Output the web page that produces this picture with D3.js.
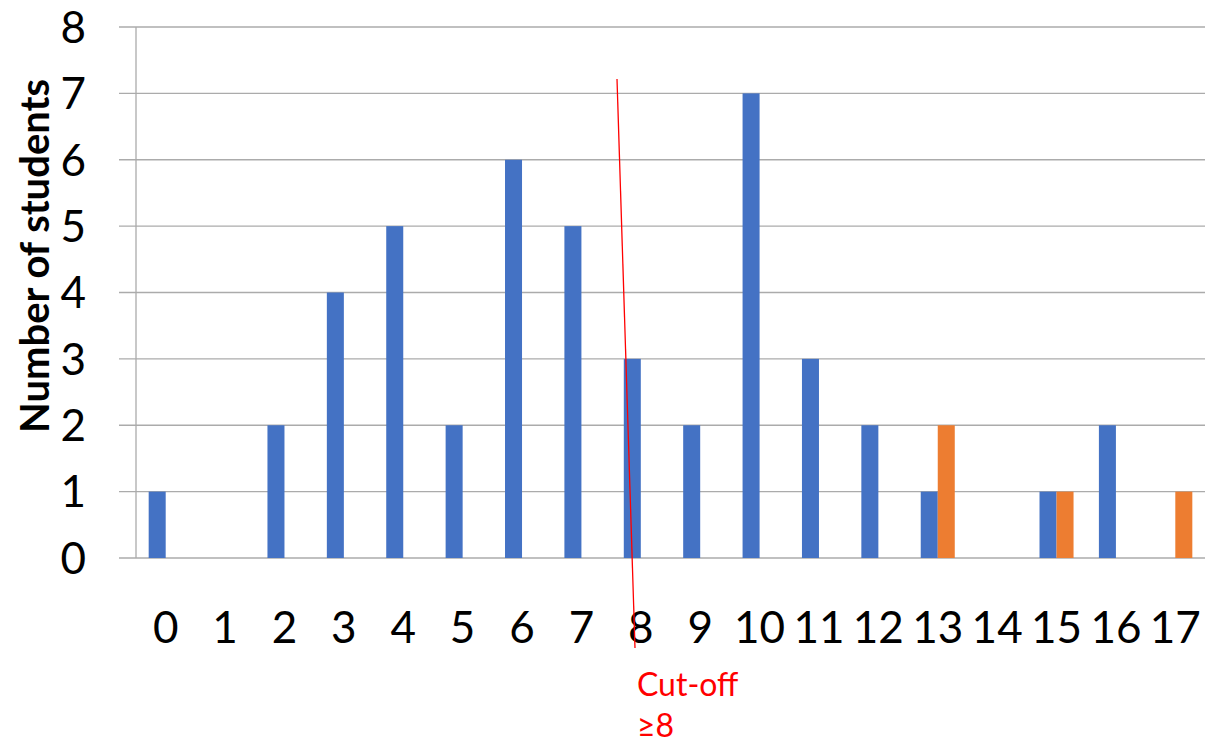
<!DOCTYPE html>
<html>
<head>
<meta charset="utf-8">
<script src="https://cdn.jsdelivr.net/npm/d3@7"></script>
<style>
  html, body { margin: 0; padding: 0; background: #fff; }
  svg { display: block; }
  text { font-family: Lato, "Open Sans", sans-serif; }
</style>
</head>
<body>
<svg id="chart" width="1205" height="744"></svg>
<script>
const categories = ["0","1","2","3","4","5","6","7","8","9","10","11","12","13","14","15","16","17"];
const seriesA = [1,0,2,4,5,2,6,5,3,2,7,3,2,1,0,1,2,0];
const seriesB = [0,0,0,0,0,0,0,0,0,0,0,0,0,2,0,1,0,1];
const seriesNames = ["A","B"];
const yTicks = [0,1,2,3,4,5,6,7,8];
const yTitle = "Number of students";
const cutoffLabel = ["Cut-off", "≥8"];

const colors = {A: "#4472C4", B: "#ED7D31"};
const svg = d3.select("#chart");
const plot = {left: 136, right: 1205, top: 27, bottom: 558};

const x = d3.scaleBand().domain(categories).range([plot.left, plot.right]).paddingInner(0.427).paddingOuter(0.2135);
const xs = d3.scaleBand().domain(seriesNames).range([0, x.bandwidth()]);
const y = d3.scaleLinear().domain([0, 8]).range([plot.bottom, plot.top]);

// gridlines
svg.append("g").selectAll("line").data(yTicks).join("line")
  .attr("x1", 119).attr("x2", plot.right)
  .attr("y1", d => y(d)).attr("y2", d => y(d))
  .attr("stroke", "#ababab").attr("stroke-width", 1.3);

// vertical axis line
svg.append("line").attr("x1", plot.left).attr("x2", plot.left)
  .attr("y1", y(8)).attr("y2", y(0))
  .attr("stroke", "#ababab").attr("stroke-width", 1.3);

// y tick labels
svg.append("g").selectAll("text").data(yTicks).join("text")
  .attr("x", 86).attr("y", d => y(d)).attr("dy", "0.36em")
  .attr("text-anchor", "end").attr("font-size", 44).attr("fill", "#000")
  .text(d => d);

// bars
const rows = categories.map((c, i) => ({c, vals: [{s: "A", v: seriesA[i]}, {s: "B", v: seriesB[i]}]}));
const g = svg.append("g").selectAll("g").data(rows).join("g")
  .attr("transform", d => `translate(${x(d.c)},0)`);
g.selectAll("rect").data(d => d.vals.filter(e => e.v > 0)).join("rect")
  .attr("x", e => xs(e.s)).attr("width", xs.bandwidth())
  .attr("y", e => y(e.v)).attr("height", e => y(0) - y(e.v))
  .attr("fill", e => colors[e.s]);

// x labels
svg.append("g").selectAll("text").data(categories).join("text")
  .attr("x", d => x(d) + x.bandwidth() / 2).attr("y", 643)
  .attr("text-anchor", "middle").attr("font-size", 44).attr("fill", "#000")
  .text(d => d);

// y title
svg.append("text")
  .attr("transform", "translate(49,256) rotate(-90)")
  .attr("text-anchor", "middle").attr("font-size", 40).attr("font-weight", "bold")
  .attr("fill", "#000").text(yTitle);

// cutoff line
svg.append("line")
  .attr("x1", 617).attr("y1", 79)
  .attr("x2", 635).attr("y2", 648)
  .attr("stroke", "#ff0000").attr("stroke-width", 1.3);

svg.append("g").selectAll("text").data(cutoffLabel).join("text")
  .attr("x", 637).attr("y", (d, i) => 696 + i * 41)
  .attr("font-size", 32).attr("fill", "#ff0000")
  .text(d => d);
</script>
</body>
</html>
